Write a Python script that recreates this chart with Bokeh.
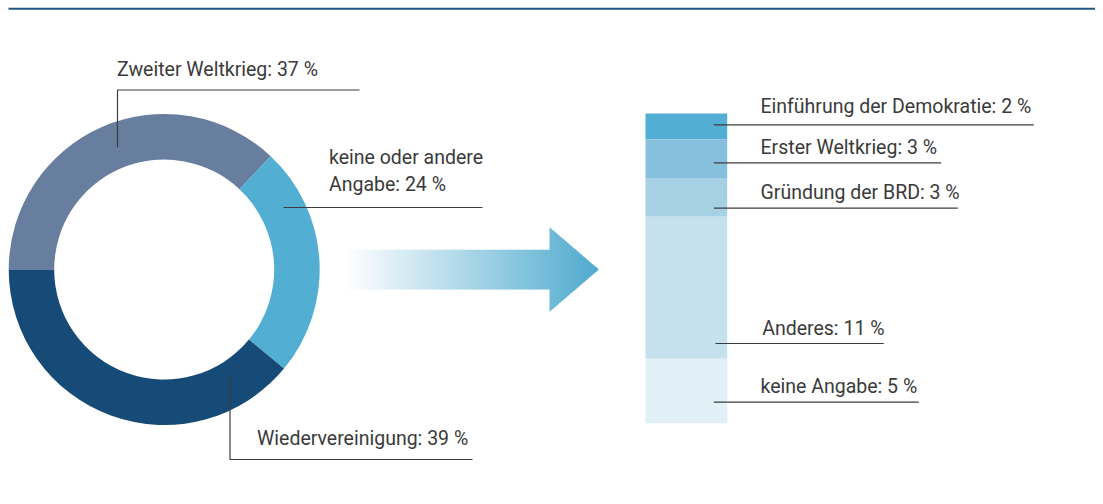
import math
from bokeh.plotting import figure
from bokeh.models import Range1d, ColumnDataSource
from bokeh.core.properties import value
from bokeh.embed import file_html
from bokeh.resources import INLINE

# ---------------- data ----------------
main_categories = ["Zweiter Weltkrieg", "keine oder andere Angabe", "Wiedervereinigung"]
main_values = [37, 24, 39]
main_colors = ["#687e9f", "#52aed2", "#174b77"]

sub_categories = ["Einführung der Demokratie", "Erster Weltkrieg", "Gründung der BRD",
                  "Anderes", "keine Angabe"]
sub_values = [2, 3, 3, 11, 5]
sub_colors = ["#52aed2", "#86c0dd", "#a6d1e4", "#c5e1ed", "#e1eff7"]

# ---------------- layout helpers (screen px -> data) ----------------
W, H = 1095, 496
TS = 7.0  # text baseline correction
def sx(x):
    return x
def sy(y):
    return H - y
def ty(y):
    return H - (y - TS)

FONT = value("Roboto")
FS = "19.5px"
TXT = "#3a3a3a"
LINE = "#3c3c3c"

p = figure(width=W, height=H, x_range=Range1d(0, W), y_range=Range1d(0, H),
           output_backend="svg", toolbar_location=None, min_border=0,
           min_border_left=0, min_border_right=0, min_border_top=0, min_border_bottom=0)
p.axis.visible = False
p.grid.visible = False
p.outline_line_color = None
p.background_fill_color = "white"
p.border_fill_color = "white"

# top rule
p.line([sx(8), sx(1103)], [sy(8.3), sy(8.3)], line_color="#1f5583", line_width=2)

# ---------------- donut ----------------
cx, cy = sx(163.7), sy(269)
r_in, r_out = 110, 155.5
total = sum(main_values)
starts, ends = [], []
cum = 0
for v in main_values:
    starts.append(math.pi - 2 * math.pi * cum / total)
    cum += v
    ends.append(math.pi - 2 * math.pi * cum / total)
src = ColumnDataSource(dict(x=[cx] * 3, y=[cy] * 3, s=starts, e=ends, c=main_colors))
p.annular_wedge(x="x", y="y", inner_radius=r_in, outer_radius=r_out,
                start_angle="s", end_angle="e", direction="clock",
                fill_color="c", line_color=None, source=src)

# donut labels
p.line([sx(117), sx(117), sx(359)], [sy(147), sy(89.5), sy(89.5)], line_color=LINE, line_width=1.2)
p.line([sx(283), sx(482)], [sy(207), sy(207)], line_color=LINE, line_width=1.2)
p.line([sx(229.5), sx(229.5), sx(472)], [sy(376), sy(459), sy(459)], line_color=LINE, line_width=1.2)

p.text(x=[sx(116.5)], y=[ty(76)], text=[f"{main_categories[0]}: {main_values[0]} %"],
       text_font=FONT, text_font_size=FS, text_color=TXT, text_baseline="alphabetic")
p.text(x=[sx(328.5), sx(328.5)], y=[ty(164.3), ty(191)],
       text=["keine oder andere", f"Angabe: {main_values[1]} %"],
       text_font=FONT, text_font_size=FS, text_color=TXT, text_baseline="alphabetic")
p.text(x=[sx(256.5)], y=[ty(445)], text=[f"{main_categories[2]}: {main_values[2]} %"],
       text_font=FONT, text_font_size=FS, text_color=TXT, text_baseline="alphabetic")

# ---------------- gradient arrow ----------------
x_start, x_base, x_tip = 345.0, 549.0, 598.3
shaft_top, shaft_bot = 249.3, 289.0
head_half, y_mid = 42.3, 269.0
c0 = (255, 255, 255)
c1 = (79, 170, 207)
def grad(x):
    f = (x - x_start) / (x_tip - x_start)
    f = max(0.0, min(1.0, f))
    return "#%02x%02x%02x" % tuple(int(round(a + (b - a) * f)) for a, b in zip(c0, c1))

xs_list, ys_list, cols = [], [], []
step = 2.0
x = x_start
while x < x_base - 1e-6:
    x1 = min(x + step, x_base)
    xe = x1 + 0.6
    xs_list.append([sx(x), sx(xe), sx(xe), sx(x)])
    ys_list.append([sy(shaft_top), sy(shaft_top), sy(shaft_bot), sy(shaft_bot)])
    cols.append(grad((x + x1) / 2))
    x = x1
def hh(xv):
    return max(0.0, (x_tip - xv) / (x_tip - x_base) * head_half)
x = x_base
while x < x_tip - 1e-6:
    x1 = min(x + 1.5, x_tip)
    xe = min(x1 + 0.5, x_tip)
    xs_list.append([sx(x), sx(xe), sx(xe), sx(x)])
    ys_list.append([sy(y_mid - hh(x)), sy(y_mid - hh(xe)), sy(y_mid + hh(xe)), sy(y_mid + hh(x))])
    cols.append(grad((x + x1) / 2))
    x = x1
p.patches(xs_list, ys_list, fill_color=cols, line_color=None)

# ---------------- stacked bar ----------------
bar_left, bar_right = 645.0, 726.7
bar_base = sy(422.7)
scale = 12.9
tops, bottoms = [], []
for i in range(len(sub_values)):
    tops.append(bar_base + scale * sum(sub_values[i:]))
    bottoms.append(bar_base + scale * sum(sub_values[i + 1:]))
bsrc = ColumnDataSource(dict(x=[sx((bar_left + bar_right) / 2)] * len(sub_values),
                             top=tops, bottom=bottoms, c=sub_colors))
p.vbar(x="x", width=bar_right - bar_left, top="top", bottom="bottom",
       fill_color="c", line_color=None, source=bsrc)

# bar labels (layout positions)
lab_x = [760, 760, 760, 761.7, 760]
lab_base = [113.3, 154, 199, 335, 393.3]
line_y = [124.3, 162.3, 207.7, 343, 401.7]
line_x0 = [713.3, 713.3, 713.3, 715, 713.3]
line_x1 = [1033.3, 940.7, 957.3, 883.3, 918.3]
for i in range(len(sub_values)):
    p.line([sx(line_x0[i]), sx(line_x1[i])], [sy(line_y[i]), sy(line_y[i])],
           line_color=LINE, line_width=1.2)
p.text(x=[sx(v) for v in lab_x], y=[ty(v) for v in lab_base],
       text=[f"{c}: {v} %" for c, v in zip(sub_categories, sub_values)],
       text_font=FONT, text_font_size=FS, text_color=TXT, text_baseline="alphabetic")

open("out.html", "w").write(file_html(p, INLINE))
